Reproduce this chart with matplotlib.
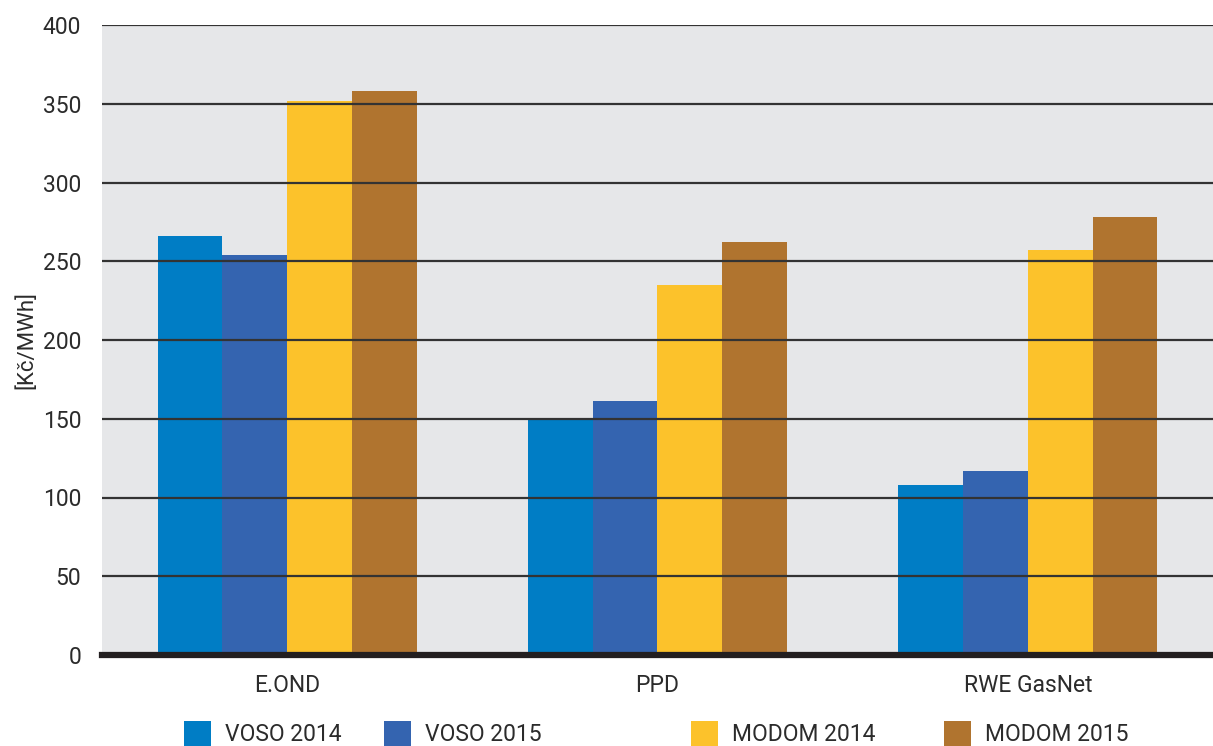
import numpy as np
import matplotlib
matplotlib.use("Agg")
import matplotlib.pyplot as plt

plt.rcParams['font.family'] = ['Roboto', 'DejaVu Sans']

# data
companies = ['E.OND', 'PPD', 'RWE GasNet']
series = ['VOSO 2014', 'VOSO 2015', 'MODOM 2014', 'MODOM 2015']
voso_2014 = [266, 150, 108]
voso_2015 = [254, 161, 117]
modom_2014 = [352, 235, 257]
modom_2015 = [358, 262, 278]
colors = ['#007dc5', '#3464b0', '#fcc22b', '#b0742f']
yticks = [0, 50, 100, 150, 200, 250, 300, 350, 400]

W, H = 1213, 746
fig = plt.figure(figsize=(W / 100, H / 100), dpi=100)
ax = fig.add_axes([102 / W, 1 - 655 / H, 1 - 102 / W, (655 - 25) / H])
ax.set_facecolor('#e6e7e9')

x = np.arange(len(companies))
width = 0.175
values = [voso_2014, voso_2015, modom_2014, modom_2015]
for i, (vals, name, c) in enumerate(zip(values, series, colors)):
    ax.bar(x + (i - 1.5) * width, vals, width, color=c, label=name, zorder=1)

ax.set_xlim(-0.5, 2.5)
ax.set_ylim(0, 400)
ax.set_yticks(yticks)
ax.set_xticks(x)
ax.set_xticklabels(companies)
ax.yaxis.grid(True, color='#333333', linewidth=1.6, zorder=3)
ax.set_axisbelow(False)
ax.axhline(0, color='#231f20', linewidth=4.5, zorder=4, clip_on=False)

for s in ax.spines.values():
    s.set_visible(False)
ax.tick_params(axis='both', length=0, labelsize=16.5, colors='#2b2b2b')
ax.tick_params(axis='y', pad=15)
ax.tick_params(axis='x', pad=14)
ax.set_ylabel('[Kč/MWh]', fontsize=16, color='#2b2b2b', labelpad=4)

# legend, one entry at a time (uneven spacing in the original)
handles, labels = ax.get_legend_handles_labels()
legend_x = [163, 363, 670, 923]
for h, l, lx in zip(handles, labels, legend_x):
    fig.legend([h], [l], loc='lower left', bbox_to_anchor=(lx / W, -0.028),
               frameon=False, fontsize=16.5, handlelength=1.2, handleheight=1.3,
               handletextpad=0.6, labelcolor='#2b2b2b')

fig.savefig('out.png', dpi=100)
